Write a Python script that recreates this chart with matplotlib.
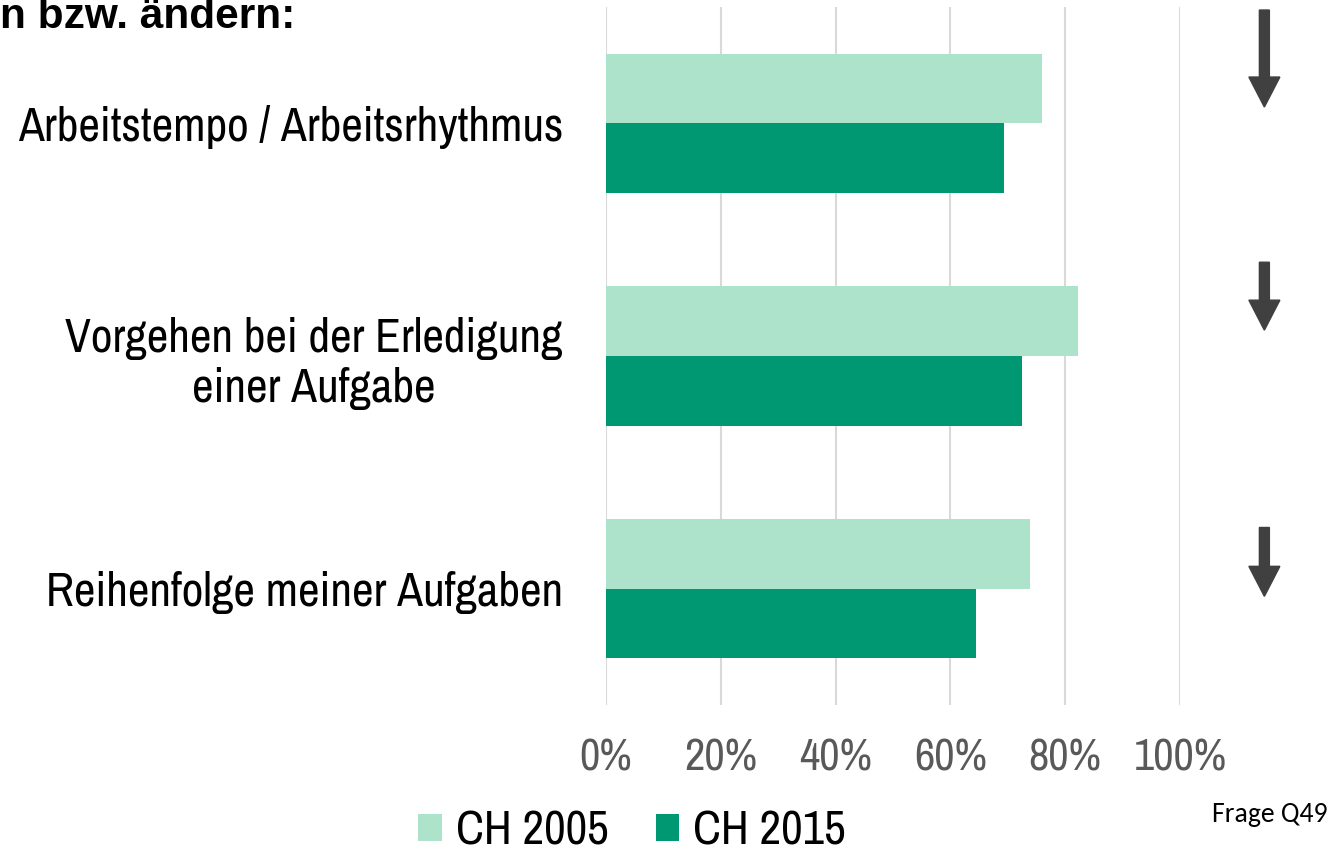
import matplotlib.pyplot as plt
from matplotlib import font_manager
from matplotlib.patches import FancyArrow

# Daten
kategorien = ['Arbeitstempo / Arbeitsrhythmus',
              'Vorgehen bei der Erledigung\neiner Aufgabe',
              'Reihenfolge meiner Aufgaben']
ch_2005 = [0.76, 0.822, 0.739]
ch_2015 = [0.693, 0.725, 0.645]
serien = ['CH 2005', 'CH 2015']
x_ticks = [0, 0.2, 0.4, 0.6, 0.8, 1.0]
x_labels = ['0%', '20%', '40%', '60%', '80%', '100%']
# Pfeile (Trend nach unten), y-Start und y-Spitze je Kategorie
pfeil_start = [-0.487, 0.597, 1.737]
pfeil_ende = [-0.070, 0.889, 2.033]

farbe_2005 = '#ADE3CB'
farbe_2015 = '#009872'
farbe_pfeil = '#404040'

namen = {f.name for f in font_manager.fontManager.ttflist}
schmal = next(n for n in ['Liberation Sans Narrow', 'Arimo Narrow', 'Archivo Narrow', 'Liberation Sans']
              if n in namen)
calibri = next(n for n in ['Carlito', 'Calibri', 'Open Sans'] if n in namen)

plt.rcParams['font.family'] = [schmal, 'DejaVu Sans']

fig = plt.figure(figsize=(13.37, 8.5), dpi=100)
ax = fig.add_axes([606 / 1337, 1 - 705 / 850, 574 / 1337, 698 / 850])

pos = list(range(len(kategorien)))
h = 0.3
ax.barh([p - h / 2 for p in pos], ch_2005, height=h, color=farbe_2005, label=serien[0], zorder=2)
ax.barh([p + h / 2 for p in pos], ch_2015, height=h, color=farbe_2015, label=serien[1], zorder=2)

ax.set_xlim(0, 1)
ax.set_ylim(2.5, -0.5)
ax.set_xticks(x_ticks)
ax.set_xticklabels(x_labels, fontsize=32, color='#595959')
ax.set_yticks(pos)
ax.set_yticklabels(kategorien, fontsize=34, color='black')
for lab in ax.get_yticklabels():
    lab.set_multialignment('center')
ax.tick_params(axis='y', length=0, pad=31)
ax.tick_params(axis='x', length=0, pad=24)
ax.grid(axis='x', color='#D9D9D9', linewidth=1.5, zorder=0)
ax.set_axisbelow(True)
for s in ax.spines.values():
    s.set_visible(False)

for y0, y1 in zip(pfeil_start, pfeil_ende):
    a = FancyArrow(1.147, y0, 0, y1 - y0, width=0.0174, head_width=0.054,
                   head_length=0.129, length_includes_head=True,
                   color=farbe_pfeil, clip_on=False, zorder=3)
    ax.add_patch(a)

fig.legend(loc='center', bbox_to_anchor=(632 / 1337, 1 - 831 / 850), ncol=2,
           frameon=False, fontsize=34, handlelength=0.5, handleheight=0.5,
           handletextpad=0.3, columnspacing=1.0, borderaxespad=0)

fig.text(0, 1 - 28 / 850, 'n bzw. ändern:', fontsize=30.5, fontweight='bold',
         family='Liberation Sans', ha='left', va='baseline')
fig.text(1328 / 1337, 1 - 822 / 850, 'Frage Q49', fontsize=20, family=calibri,
         ha='right', va='baseline', color='black')

fig.savefig('out.png', dpi=100)
